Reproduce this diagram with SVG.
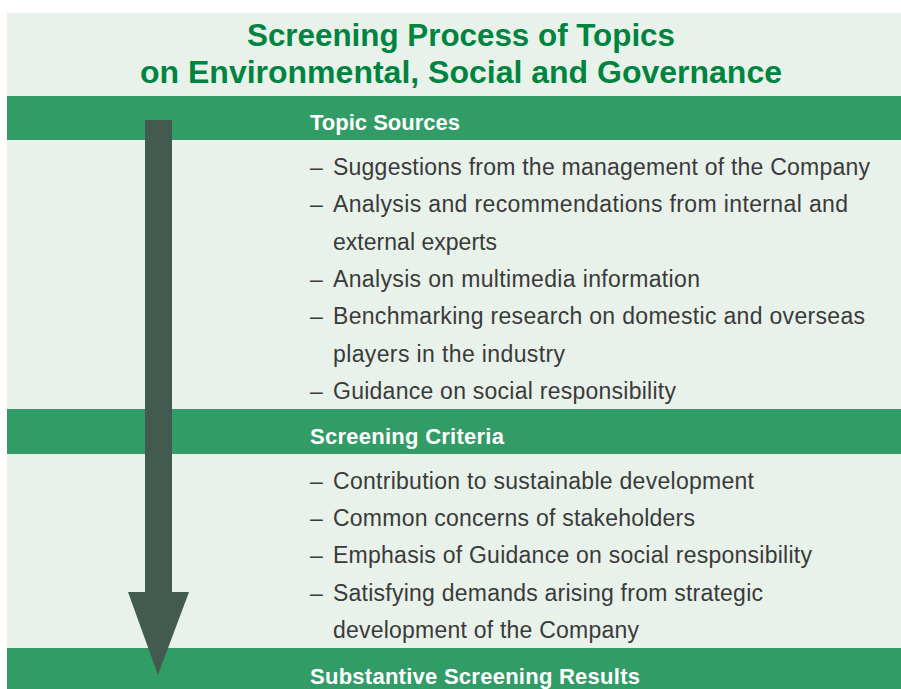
<svg xmlns="http://www.w3.org/2000/svg" width="901" height="689" viewBox="0 0 901 689">
  <style>
    .title { font-family: "Liberation Sans", Arial, sans-serif; font-weight: bold; font-size: 31px; fill: #00843f; text-anchor: middle; }
    .bar { fill: #319c66; }
    .bar-label { font-family: "Liberation Sans", Arial, sans-serif; font-weight: bold; font-size: 22px; fill: #ffffff; }
    .item { font-family: "Liberation Sans", Arial, sans-serif; font-size: 23px; fill: #3a3a3a; }
  </style>
  <rect x="0" y="0" width="901" height="689" fill="#ffffff"/>
  <!-- panel background -->
  <rect x="7" y="13" width="894" height="676" fill="#e8f2ea"/>

  <g id="title">
    <text class="title" x="461" y="46" textLength="428" lengthAdjust="spacingAndGlyphs">Screening Process of Topics</text>
    <text class="title" x="461" y="83" textLength="642" lengthAdjust="spacingAndGlyphs">on Environmental, Social and Governance</text>
  </g>

  <g id="topic-sources">
    <rect class="bar" x="7" y="96" width="894" height="44"/>
    <text class="bar-label" x="310" y="130" textLength="150">Topic Sources</text>
    <text class="item" x="310" y="175">–</text>
    <text class="item" x="333" y="175" textLength="537">Suggestions from the management of the Company</text>
    <text class="item" x="310" y="212">–</text>
    <text class="item" x="333" y="212" textLength="515">Analysis and recommendations from internal and</text>
    <text class="item" x="333" y="250" textLength="164">external experts</text>
    <text class="item" x="310" y="287">–</text>
    <text class="item" x="333" y="287" textLength="367">Analysis on multimedia information</text>
    <text class="item" x="310" y="324">–</text>
    <text class="item" x="333" y="324" textLength="532">Benchmarking research on domestic and overseas</text>
    <text class="item" x="333" y="362" textLength="232">players in the industry</text>
    <text class="item" x="310" y="399">–</text>
    <text class="item" x="333" y="399" textLength="343">Guidance on social responsibility</text>
  </g>

  <g id="screening-criteria">
    <rect class="bar" x="7" y="409" width="894" height="45"/>
    <text class="bar-label" x="310" y="444" textLength="194">Screening Criteria</text>
    <text class="item" x="310" y="489">–</text>
    <text class="item" x="333" y="489" textLength="421">Contribution to sustainable development</text>
    <text class="item" x="310" y="526">–</text>
    <text class="item" x="333" y="526" textLength="362">Common concerns of stakeholders</text>
    <text class="item" x="310" y="563">–</text>
    <text class="item" x="333" y="563" textLength="479">Emphasis of Guidance on social responsibility</text>
    <text class="item" x="310" y="601">–</text>
    <text class="item" x="333" y="601" textLength="430">Satisfying demands arising from strategic</text>
    <text class="item" x="333" y="638" textLength="306">development of the Company</text>
  </g>

  <g id="screening-results">
    <rect class="bar" x="7" y="648" width="894" height="41"/>
    <text class="bar-label" x="310" y="684" textLength="330">Substantive Screening Results</text>
  </g>

  <g id="connectors">
    <polygon points="145,120 172,120 172,592 189,592 158,675 128,592 145,592" fill="#435a51"/>
  </g>
</svg>
